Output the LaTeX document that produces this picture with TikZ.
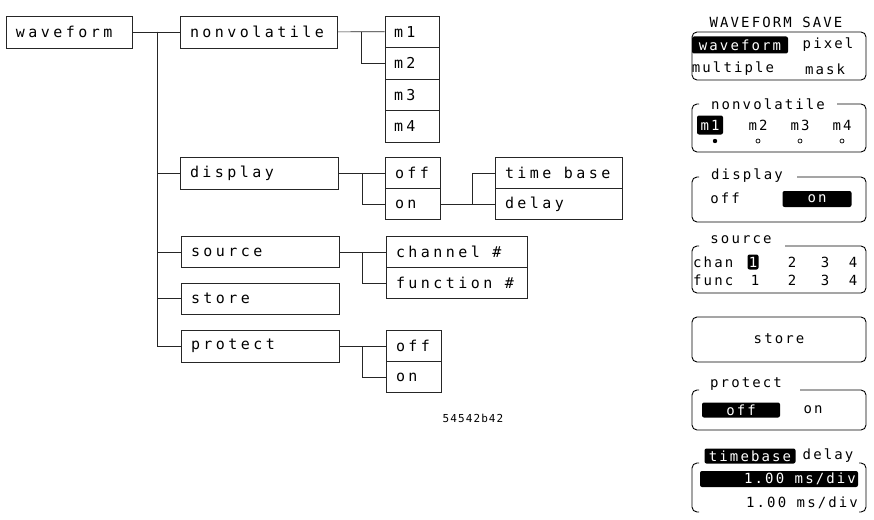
\documentclass[tikz,border=0pt]{standalone}
\usepackage{fontspec}
\newfontfamily\lblfont[LetterSpace=23]{DejaVu Sans Mono}
\newfontfamily\pnlfont[LetterSpace=15]{DejaVu Sans Mono}
\newfontfamily\idfont[LetterSpace=10]{DejaVu Sans Mono}
\newcommand{\gapsp}{\hspace*{12.5pt}}
\begin{document}
\begin{tikzpicture}[x=1pt,y=-1pt,
  lbox/.style={draw=black!85, line width=0.7pt, inner xsep=10pt, inner ysep=0pt, align=left,
    font=\lblfont\fontsize{15}{17}\selectfont},
  conn/.style={draw=black!85, line width=0.7pt},
  pt/.style={font=\pnlfont\fontsize{14}{16}\selectfont, inner sep=0pt},
  hl/.style={pt, fill=black, text=white, rounded corners=2pt},
  frame/.style={line width=0.9pt, rounded corners=5pt},
  dotc/.style={line width=0.7pt}]
\fill[white] (0,0) rectangle (874,519);
\useasboundingbox (0,0) rectangle (874,519);
% ---------------- left tree ----------------
\node[lbox, text width=106pt, minimum height=32pt] (wf) at (69,32) {waveform};
\node[lbox, text width=137pt, minimum height=32pt] (nv) at (258.5,32) {nonvolatile};
\node[lbox, text width=36pt, minimum height=31.5pt, inner xsep=9pt] (m1) at (412,31.75) {m1};
\node[lbox, text width=36pt, minimum height=31.5pt, inner xsep=9pt] (m2) at (412,63.25) {m2};
\node[lbox, text width=36pt, minimum height=31.5pt, inner xsep=9pt] (m3) at (412,94.75) {m3};
\node[lbox, text width=36pt, minimum height=31.5pt, inner xsep=9pt] (m4) at (412,126.25) {m4};
\node[lbox, text width=138pt, minimum height=32pt] (disp) at (259,173) {display};
\node[lbox, text width=35pt, minimum height=31pt] (doff) at (412.5,173) {off};
\node[lbox, text width=35pt, minimum height=31pt] (don) at (412.5,204) {on};
\node[lbox, text width=107pt, minimum height=31pt] (tb) at (558.5,173) {time\gapsp base};
\node[lbox, text width=107pt, minimum height=31pt] (dl) at (558.5,204) {delay};
\node[lbox, text width=138pt, minimum height=31pt] (src) at (260,252) {source};
\node[lbox, text width=121pt, minimum height=31pt] (ch) at (456.5,252) {channel\gapsp\#};
\node[lbox, text width=121pt, minimum height=31pt] (fn) at (456.5,283) {function\gapsp\#};
\node[lbox, text width=138pt, minimum height=31pt] (st) at (260,298.5) {store};
\node[lbox, text width=138pt, minimum height=32pt] (pr) at (260,346) {protect};
\node[lbox, text width=35pt, minimum height=31pt] (poff) at (413.5,346) {off};
\node[lbox, text width=35pt, minimum height=31pt] (pon) at (413.5,377) {on};
\node[font=\idfont\fontsize{11}{13}\selectfont, inner sep=0pt] (id) at (473,418) {54542b42};
% connectors
\coordinate (j1) at (157,32);
\draw[conn] (wf) -- (nv);
\draw[conn] (j1) |- (disp.west);
\draw[conn] (j1) |- (src.west);
\draw[conn] (j1) |- (st.west);
\draw[conn] (j1) |- (pr.west);
\coordinate (j2) at (361,32);
\draw[conn] (nv) -- (m1);
\draw[conn] (j2) |- (m2.west);
\coordinate (j3) at (362,173);
\draw[conn] (disp) -- (doff);
\draw[conn] (j3) |- (don.west);
\coordinate (j4) at (472,204);
\draw[conn] (don) -- (dl);
\draw[conn] (j4) |- (tb.west);
\coordinate (j5) at (362,252);
\draw[conn] (src) -- (ch);
\draw[conn] (j5) |- (fn.west);
\coordinate (j6) at (362,346);
\draw[conn] (pr) -- (poff);
\draw[conn] (j6) |- (pon.west);
% ---------------- right panel ----------------
\node[pt] (ttl) at (776,22) {WAVEFORM SAVE};
\draw[frame] (692,32) rectangle (866,80);
\node[hl, minimum width=96pt, minimum height=17pt] (hwf) at (740,45) {waveform};
\node[pt] (px) at (828,45) {pixel};
\node[pt] (mu) at (733,69) {multiple};
\node[pt] (mk) at (825,69) {mask};
% nonvolatile
\draw[frame] (699,104) -- (692,104) -- (692,152) -- (866,152) -- (866,104) -- (837,104);
\node[pt] (nvt) at (768,104) {nonvolatile};
\node[hl, minimum width=26pt, minimum height=19pt] (hm1) at (710,125) {m1};
\node[pt] (pm2) at (758,125) {m2};
\node[pt] (pm3) at (800,125) {m3};
\node[pt] (pm4) at (842,125) {m4};
\fill (715,141) circle (2.2pt);
\draw[dotc] (758,141) circle (2pt);
\draw[dotc] (800,141) circle (2pt);
\draw[dotc] (842,141) circle (2pt);
% display
\draw[frame] (699,177) -- (692,177) -- (692,222) -- (866,222) -- (866,177) -- (797,177);
\node[pt] (dtt) at (747,176) {display};
\node[pt] (doffp) at (725,198) {off};
\node[hl, minimum width=69pt, minimum height=16pt] (donp) at (817,199) {on};
% source
\draw[frame] (699,246) -- (692,246) -- (692,293) -- (866,293) -- (866,246) -- (785,246);
\node[pt] (stt) at (741,240) {source};
\node[pt, anchor=west] (chn) at (693,262) {chan};
\node[hl, minimum width=11pt, minimum height=15pt] (c1) at (753,262) {1};
\node[pt] (c2) at (792,262) {2};
\node[pt] (c3) at (825,262) {3};
\node[pt] (c4) at (853,262) {4};
\node[pt, anchor=west] (fnc) at (693,280) {func};
\node[pt] (f1) at (755,280) {1};
\node[pt] (f2) at (792,280) {2};
\node[pt] (f3) at (825,280) {3};
\node[pt] (f4) at (853,280) {4};
% store
\draw[frame] (692,317) rectangle (866,362);
\node[pt] (stp) at (779,339) {store};
% protect
\draw[frame] (699,390) -- (692,390) -- (692,430) -- (866,430) -- (866,390) -- (800,390);
\node[pt] (ptt) at (746,384) {protect};
\node[hl, minimum width=78pt, minimum height=15pt] (poffp) at (741,410) {off};
\node[pt] (ponp) at (813,410) {on};
% timebase / delay
\node[hl, minimum width=91pt, minimum height=15pt] (htb) at (750,456) {timebase};
\node[pt] (dly) at (828,456) {delay};
\draw[frame] (699,463) -- (692,463) -- (692,512) -- (699,512);
\draw[frame] (859,463) -- (866,463) -- (866,512) -- (859,512);
\node[hl, minimum width=158pt, minimum height=16pt] (bar) at (779,479) {};
\node[pt, text=white, anchor=east] (v1) at (856,479) {1.00 ms/div};
\node[pt, anchor=east] (v2) at (858,503) {1.00 ms/div};
\end{tikzpicture}
\end{document}
